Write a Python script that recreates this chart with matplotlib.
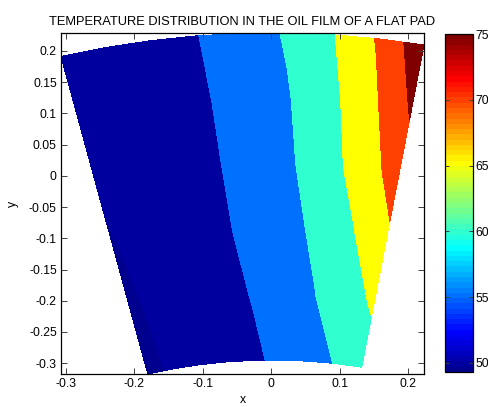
import numpy as np
import matplotlib
matplotlib.use("Agg")
import matplotlib.pyplot as plt
from matplotlib.colors import ListedColormap, Normalize
import matplotlib.cm as cm

# pad geometry: sector centre, node radii and node angles (leading -> trailing edge)
centre_x, centre_y = 0.0015, -1.047
radii = [0.752, 0.857, 0.962, 1.066, 1.171, 1.276]
angles_deg = [104, 101, 98, 95, 92, 89, 86, 83, 80]

# oil film temperature at the nodes, rows = radii (inner -> outer), cols = angles
temp = [
    [49.30, 50.40, 51.75, 53.04, 54.33, 56.00, 58.08, 60.19, 62.50],
    [49.50, 50.70, 52.21, 53.65, 55.15, 57.45, 59.75, 62.61, 65.70],
    [49.80, 51.15, 52.65, 54.09, 55.88, 58.27, 61.02, 64.69, 69.15],
    [50.20, 51.57, 52.95, 54.32, 56.33, 58.97, 62.64, 67.09, 72.37],
    [50.60, 51.90, 53.20, 54.51, 56.74, 59.54, 63.49, 68.55, 75.50],
    [51.00, 52.28, 53.56, 54.85, 57.50, 60.50, 64.75, 70.54, 78.60],
]
contour_levels = [50, 55, 60, 65, 70, 75]
cbar_ticks = [50, 55, 60, 65, 70, 75]
x_ticks = [-0.3, -0.2, -0.1, 0, 0.1, 0.2]
y_ticks = [0.2, 0.15, 0.1, 0.05, 0, -0.05, -0.1, -0.15, -0.2, -0.25, -0.3]


def matlab_jet(m=64):
    # same construction as MATLAB's jet(m)
    n = int(np.ceil(m / 4))
    u = np.concatenate([np.arange(1, n + 1) / n, np.ones(n - 1), np.arange(n, 0, -1) / n])
    g = int(np.ceil(n / 2)) - int(m % 4 == 1) + np.arange(1, len(u) + 1)
    r = g + n
    b = g - n
    cols = np.zeros((m, 3))
    for idx, ch in ((r, 0), (g, 1), (b, 2)):
        ok = (idx >= 1) & (idx <= m)
        cols[idx[ok] - 1, ch] = u[ok]
    return ListedColormap(cols)


plt.rcParams.update({
    'font.family': ['Liberation Sans', 'DejaVu Sans'],
    'font.size': 8.8,
    'axes.unicode_minus': False,
})

T = np.array(temp)
R, TH = np.meshgrid(np.array(radii), np.radians(angles_deg), indexing='ij')
X = centre_x + R * np.cos(TH)
Y = centre_y + R * np.sin(TH)

t_min, t_max = T.min(), T.max()
jet = matlab_jet(64)
norm = Normalize(vmin=t_min, vmax=contour_levels[-1])
fill_levels = [t_min] + contour_levels + [t_max]
fill_colors = [jet(norm(v)) for v in fill_levels[:-1]]

fig = plt.figure(figsize=(4.89, 4.07), dpi=100, facecolor='white')
ax = fig.add_axes([61 / 489, 33 / 407, 363 / 489, 341 / 407])
ax.contourf(X, Y, T, levels=fill_levels, colors=fill_colors, antialiased=False)

ax.set_xlim(X.min(), X.max())
ax.set_ylim(Y.min(), Y.max())
ax.set_xticks(x_ticks)
ax.set_xticklabels(['%g' % v for v in x_ticks])
ax.set_yticks(y_ticks)
ax.set_yticklabels(['%g' % v for v in y_ticks])
ax.tick_params(direction='in', length=4, width=0.7, top=True, right=True,
               color='#404040', labelcolor='black', pad=3)
for s in ax.spines.values():
    s.set_linewidth(0.9)
    s.set_edgecolor('black')

ax.set_xlabel('x', labelpad=3)
ax.set_ylabel('y', labelpad=7)
ax.set_title('TEMPERATURE DISTRIBUTION IN THE OIL FILM OF A FLAT PAD', fontsize=9.3, pad=6)

cax = fig.add_axes([445 / 489, 35 / 407, 28 / 489, 338 / 407])
sm = cm.ScalarMappable(norm=norm, cmap=jet)
cb = fig.colorbar(sm, cax=cax, ticks=cbar_ticks)
cb.ax.set_yticklabels(['%g' % v for v in cbar_ticks])
cb.ax.tick_params(direction='in', length=3, width=0.7, left=True, right=True,
                  color='#404040', labelcolor='black', pad=2)
cb.outline.set_linewidth(0.9)

fig.savefig('out.png', dpi=100)
